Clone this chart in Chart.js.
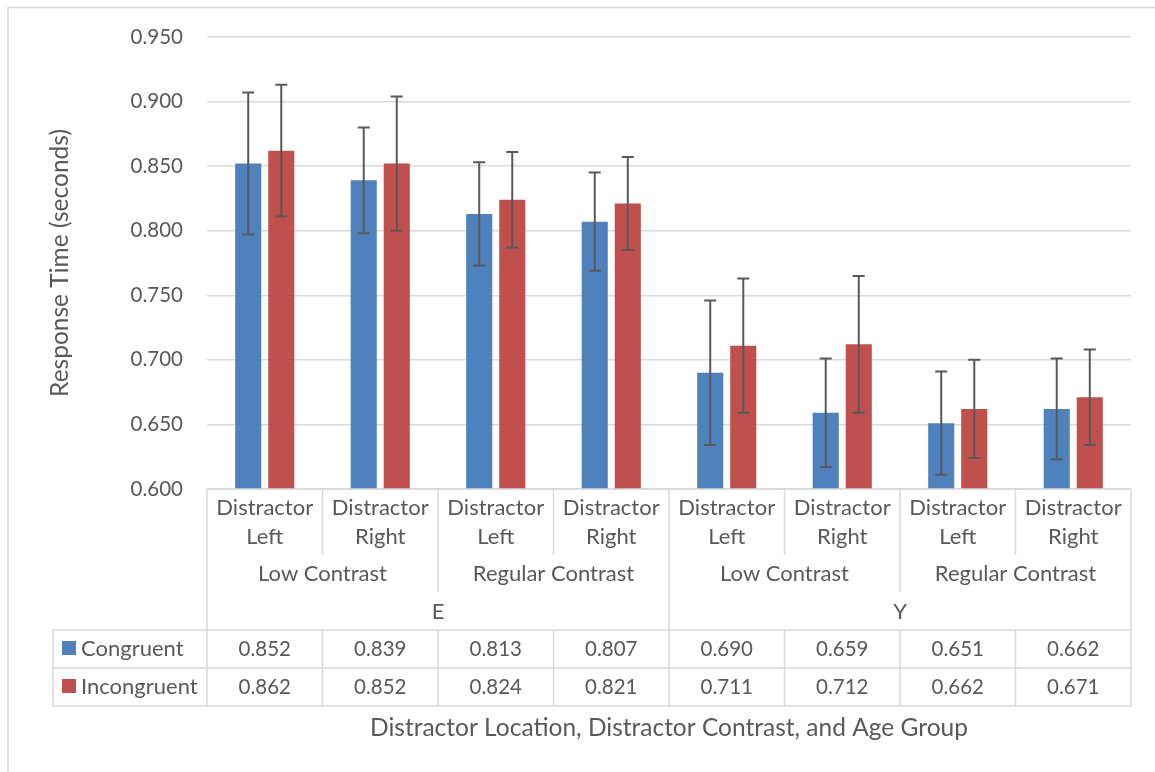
<!DOCTYPE html>
<html>
<head>
<meta charset="utf-8">
<script src="https://cdn.jsdelivr.net/npm/chart.js@4.4.1/dist/chart.umd.min.js"></script>
<style>
  html, body { margin: 0; padding: 0; background: #fff; }
  #wrap { width: 1155px; height: 772px; }
</style>
</head>
<body>
<div id="wrap"><canvas id="myChart" width="1155" height="772"></canvas></div>
<script>
// category levels (innermost first)
const locations = [['Distractor', 'Left'], ['Distractor', 'Right'], ['Distractor', 'Left'], ['Distractor', 'Right'],
                   ['Distractor', 'Left'], ['Distractor', 'Right'], ['Distractor', 'Left'], ['Distractor', 'Right']];
const contrasts = ['Low Contrast', 'Regular Contrast', 'Low Contrast', 'Regular Contrast'];
const ageGroups = ['E', 'Y'];

// series
const congruent      = [0.852, 0.839, 0.813, 0.807, 0.690, 0.659, 0.651, 0.662];
const incongruent    = [0.862, 0.852, 0.824, 0.821, 0.711, 0.712, 0.662, 0.671];
const congruentErr   = [0.055, 0.041, 0.040, 0.038, 0.056, 0.042, 0.040, 0.039];
const incongruentErr = [0.051, 0.052, 0.037, 0.036, 0.052, 0.053, 0.038, 0.037];

// y axis
const yMin = 0.6, yMax = 0.95, yStep = 0.05;

const labels = locations.map(l => l.join(' '));
const FONT = 'Lato, "Open Sans", sans-serif';
const TXT = '#595959';
const LINE = '#d9d9d9';

const errorBars = {
  id: 'errorBars',
  afterDatasetsDraw(chart) {
    const ys = chart.scales.y;
    const c = chart.ctx;
    c.save();
    c.strokeStyle = '#595959';
    c.lineWidth = 2;
    chart.data.datasets.forEach((ds, di) => {
      const meta = chart.getDatasetMeta(di);
      meta.data.forEach((bar, i) => {
        const v = ds.data[i], e = ds.err[i];
        const top = ys.getPixelForValue(v + e);
        const bot = ys.getPixelForValue(v - e);
        c.beginPath();
        c.moveTo(bar.x, top); c.lineTo(bar.x, bot);
        c.moveTo(bar.x - 6, top); c.lineTo(bar.x + 6, top);
        c.moveTo(bar.x - 6, bot); c.lineTo(bar.x + 6, bot);
        c.stroke();
      });
    });
    c.restore();
  }
};

const tablePlugin = {
  id: 'tablePlugin',
  afterDraw(chart) {
    const a = chart.chartArea;
    const c = chart.ctx;
    const n = labels.length;
    const catW = (a.right - a.left) / n;
    const edge = i => a.left + i * catW;
    const r0 = a.bottom, r1 = r0 + 66, r2 = r0 + 103, r3 = r0 + 141, r4 = r3 + 38, r5 = r4 + 38;
    const tableLeft = 53;

    c.save();
    // outer chart border
    c.strokeStyle = LINE;
    c.lineWidth = 1.5;
    c.beginPath();
    c.moveTo(8, 1000); c.lineTo(8, 7.5); c.lineTo(1200, 7.5);
    c.stroke();

    const line = (x1, y1, x2, y2) => { c.beginPath(); c.moveTo(x1, y1); c.lineTo(x2, y2); c.stroke(); };
    // category axis grid
    line(a.left, r0, a.right, r0);
    line(edge(0), r0, edge(0), r5);
    line(edge(n), r0, edge(n), r5);
    for (let i = 1; i < n; i++) {
      if (i % 4 === 0) line(edge(i), r0, edge(i), r5);
      else if (i % 2 === 0) { line(edge(i), r0, edge(i), r2); line(edge(i), r3, edge(i), r5); }
      else { line(edge(i), r0, edge(i), r1); line(edge(i), r3, edge(i), r5); }
    }
    // data table rows
    line(tableLeft, r3, a.right, r3);
    line(tableLeft, r4, a.right, r4);
    line(tableLeft, r5, a.right, r5);
    line(tableLeft, r3, tableLeft, r5);

    c.fillStyle = TXT;
    c.font = '22px ' + FONT;
    c.textAlign = 'center';
    c.textBaseline = 'middle';
    locations.forEach((l, i) => {
      const x = edge(i) + catW / 2;
      c.fillText(l[0], x, r0 + 19);
      c.fillText(l[1], x, r0 + 48);
    });
    contrasts.forEach((t, i) => c.fillText(t, edge(i * 2) + catW, r1 + 19));
    ageGroups.forEach((t, i) => c.fillText(t, edge(i * 4) + catW * 2, r2 + 20));

    c.font = '20.5px ' + FONT;
    congruent.forEach((v, i) => c.fillText(v.toFixed(3), edge(i) + catW / 2, r3 + 19));
    incongruent.forEach((v, i) => c.fillText(v.toFixed(3), edge(i) + catW / 2, r4 + 19));

    // legend keys in table
    c.font = '22px ' + FONT;
    chart.data.datasets.forEach((ds, di) => {
      const y = di === 0 ? r3 : r4;
      c.fillStyle = ds.backgroundColor;
      c.fillRect(62, y + 11, 14, 14);
      c.fillStyle = TXT;
      c.textAlign = 'left';
      c.fillText(ds.label, 81, y + 19);
    });

    // axis titles
    c.textAlign = 'center';
    c.font = '24.5px ' + FONT;
    c.fillText('Distractor Location, Distractor Contrast, and Age Group', (a.left + a.right) / 2, r5 + 22);
    c.save();
    c.translate(60, (a.top + a.bottom) / 2);
    c.rotate(-Math.PI / 2);
    c.fillText('Response Time (seconds)', 0, 0);
    c.restore();
    c.restore();
  }
};

const ctx = document.getElementById('myChart');

let config = {
  type: 'bar',
  data: {
    labels: labels,
    datasets: [
      { label: 'Congruent', data: congruent, err: congruentErr, backgroundColor: '#4f81bd' },
      { label: 'Incongruent', data: incongruent, err: incongruentErr, backgroundColor: '#c0504d' }
    ]
  },
  options: {
    responsive: false,
    devicePixelRatio: 1,
    animation: false,
    categoryPercentage: 0.572,
    barPercentage: 0.79,
    layout: { padding: { top: 37, right: 24, bottom: 0, left: 0 } },
    plugins: {
      legend: { display: false },
      tooltip: { enabled: false }
    },
    scales: {
      x: {
        grid: { display: false },
        border: { display: false },
        ticks: { display: false },
        afterFit(scale) { scale.height = 283; }
      },
      y: {
        min: yMin,
        max: yMax,
        border: { display: false },
        grid: { color: LINE, lineWidth: 1.5, drawTicks: false },
        ticks: {
          stepSize: yStep,
          padding: 24,
          color: TXT,
          font: { family: FONT, size: 20.5 },
          callback: v => v.toFixed(3)
        },
        afterFit(scale) { scale.width = 207; }
      }
    }
  },
  plugins: [errorBars, tablePlugin]
};

let bar = new Chart(ctx, config);
</script>
</body>
</html>
